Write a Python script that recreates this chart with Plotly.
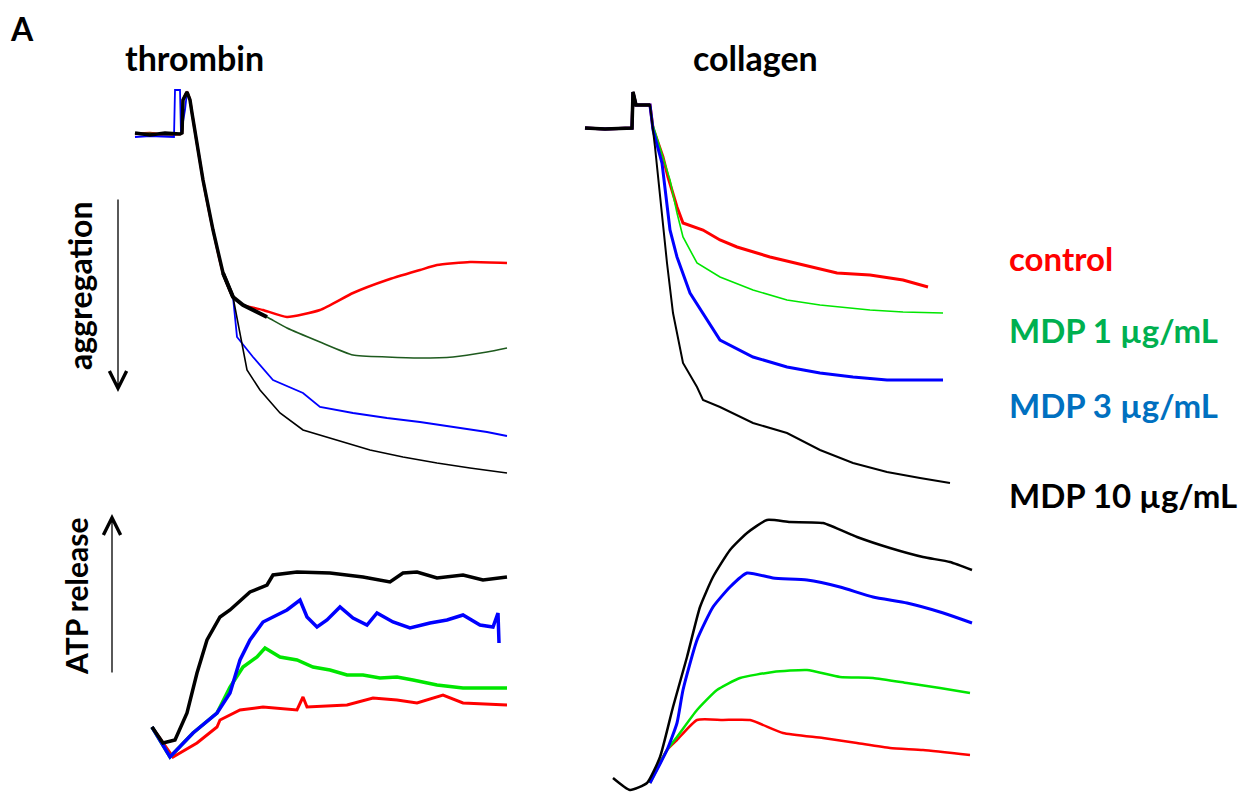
import plotly.graph_objects as go

# page: body margin 8px, figure fills the rest of the 1259x802 window
OFF = 8
W, H = 1259 - 2 * OFF, 802 - 2 * OFF

# ---------------- data (time in s, signal in arbitrary units) ----------------
# Thrombin aggregation (signal: light transmission, up = less aggregation)
thr_agg_ctrl_t = [5, 20, 35, 50, 52, 53, 57, 60, 62, 73, 83, 93, 103, 113, 133, 157, 190, 223, 257, 290, 307, 340, 377]
thr_agg_ctrl_v = [356, 357, 355, 356, 357, 390, 398, 390, 377, 310, 260, 217, 193, 185, 180, 173, 180, 197, 210, 220, 225, 228, 227]
thr_agg_m1_t = [5, 20, 35, 50, 52, 53, 57, 60, 62, 73, 83, 93, 103, 113, 137, 157, 190, 223, 257, 290, 323, 357, 377]
thr_agg_m1_v = [356, 357, 355, 356, 357, 390, 398, 390, 377, 310, 260, 217, 193, 185, 173, 162, 148, 135, 133, 132, 133, 138, 142]
thr_agg_m3_t = [5, 20, 44, 45, 50, 51, 55, 57, 60, 62, 73, 83, 93, 103, 107, 123, 143, 173, 190, 223, 257, 290, 323, 357, 377]
thr_agg_m3_v = [353, 354, 353, 400, 400, 356, 380, 398, 390, 377, 310, 260, 217, 193, 153, 133, 110, 97, 83, 77, 72, 68, 63, 58, 54]
thr_agg_m10_t = [5, 20, 35, 50, 52, 53, 57, 60, 62, 73, 83, 93, 103, 113, 117, 130, 150, 173, 207, 240, 273, 307, 340, 377]
thr_agg_m10_v = [357, 355, 357, 356, 357, 390, 398, 390, 377, 310, 260, 217, 193, 143, 120, 100, 77, 60, 50, 40, 33, 27, 22, 17]

# Collagen aggregation
col_agg_ctrl_t = [10, 30, 57, 58, 61, 75, 78, 88, 93, 102, 108, 128, 145, 162, 195, 228, 262, 295, 328, 353]
col_agg_ctrl_v = [362, 361, 362, 398, 385, 385, 362, 333, 313, 283, 267, 260, 250, 243, 233, 225, 217, 215, 210, 203]
col_agg_m1_t = [10, 30, 57, 58, 61, 75, 78, 88, 95, 102, 108, 122, 145, 178, 212, 245, 295, 328, 368]
col_agg_m1_v = [362, 361, 362, 398, 385, 385, 365, 333, 310, 277, 253, 227, 213, 200, 190, 185, 180, 178, 177]
col_agg_m3_t = [10, 30, 57, 58, 61, 75, 78, 87, 95, 102, 115, 128, 145, 178, 212, 245, 278, 312, 368]
col_agg_m3_v = [362, 361, 362, 398, 385, 385, 360, 327, 260, 233, 197, 177, 150, 133, 123, 117, 113, 110, 110]
col_agg_m10_t = [10, 30, 57, 58, 61, 75, 80, 85, 92, 98, 108, 122, 128, 145, 178, 212, 245, 278, 312, 345, 375]
col_agg_m10_v = [362, 361, 362, 398, 385, 385, 343, 293, 227, 177, 127, 103, 90, 83, 67, 57, 40, 27, 18, 12, 7]

# Thrombin ATP release (up = more ATP)
thr_atp_ctrl_t = [22, 43, 67, 87, 90, 110, 133, 167, 173, 177, 217, 243, 267, 287, 313, 333, 377]
thr_atp_ctrl_v = [43, 13, 27, 43, 50, 60, 63, 60, 73, 63, 65, 72, 70, 67, 75, 67, 65]
thr_atp_m1_t = [22, 40, 63, 87, 100, 113, 127, 135, 150, 167, 183, 200, 217, 233, 250, 267, 283, 307, 333, 353, 377]
thr_atp_m1_v = [43, 13, 37, 57, 83, 103, 113, 122, 113, 110, 103, 100, 95, 95, 92, 93, 90, 85, 82, 82, 82]
thr_atp_m3_t = [22, 40, 63, 87, 100, 110, 120, 133, 147, 157, 170, 177, 187, 197, 210, 223, 237, 247, 263, 280, 300, 317, 333, 350, 363, 368, 369]
thr_atp_m3_v = [43, 13, 37, 57, 77, 110, 130, 148, 155, 160, 170, 153, 143, 150, 163, 152, 145, 157, 148, 142, 147, 150, 155, 145, 143, 157, 127]
thr_atp_m10_t = [22, 33, 45, 57, 67, 77, 90, 100, 120, 137, 143, 167, 200, 233, 260, 273, 287, 307, 333, 353, 377]
thr_atp_m10_v = [43, 27, 30, 57, 97, 130, 153, 160, 178, 185, 195, 198, 197, 193, 188, 197, 198, 192, 195, 190, 193]

# Collagen ATP release
col_atp_ctrl_t = [50, 67, 77, 97, 123, 150, 183, 223, 257, 290, 323, 370]
col_atp_ctrl_v = [17, 50, 60, 80, 80, 80, 67, 62, 57, 52, 50, 45]
col_atp_m1_t = [50, 67, 77, 97, 117, 140, 173, 207, 240, 273, 307, 340, 370]
col_atp_m1_v = [17, 50, 63, 90, 110, 122, 128, 130, 123, 122, 117, 112, 107]
col_atp_m3_t = [50, 67, 77, 83, 97, 113, 130, 147, 173, 207, 240, 273, 307, 340, 372]
col_atp_m3_v = [17, 50, 77, 110, 160, 193, 213, 227, 222, 220, 213, 203, 197, 188, 177]
col_atp_m10_t = [13, 30, 47, 60, 73, 87, 100, 113, 130, 147, 167, 190, 223, 257, 290, 323, 350, 372]
col_atp_m10_v = [22, 10, 17, 43, 93, 143, 193, 223, 250, 267, 280, 278, 277, 263, 252, 243, 238, 230]

legend_labels = ["control", "MDP 1 µg/mL", "MDP 3 µg/mL", "MDP 10 µg/mL"]
legend_colors = ["#ff0000", "#00b050", "#0070c0", "#000000"]

# ---------------- layout helpers (positions given in window pixels) ----------------
def fx(px):
    return (px - OFF) / W

def fy(py):
    return 1 - (py - OFF) / H

panels = {
    # name: (left, right, top, bottom) in window pixels
    "1": (130, 520, 80, 490),
    "2": (575, 965, 80, 490),
    "3": (130, 520, 560, 770),
    "4": (600, 990, 500, 800),
}

fig = go.Figure()

def sub(lst, lo, hi, ref):
    return [v for v, r in zip(lst, ref) if lo <= r <= hi]

def add(panel, t, v, color, width, shape="linear"):
    fig.add_trace(go.Scatter(
        x=t, y=v, mode="lines",
        line=dict(color=color, width=width, shape=shape, smoothing=0.5),
        xaxis="x" + ("" if panel == "1" else panel),
        yaxis="y" + ("" if panel == "1" else panel),
        showlegend=False, hoverinfo="skip"))

RED, GRN, DGRN, BLU, BLK = "#ff0000", "#00e600", "#1e5a1e", "#0000ff", "#000000"

# thrombin aggregation
add("1", thr_agg_ctrl_t, thr_agg_ctrl_v, RED, 2.5, "spline")
add("1", thr_agg_m1_t, thr_agg_m1_v, DGRN, 1.6, "spline")
add("1", thr_agg_m3_t, thr_agg_m3_v, BLU, 1.8)
add("1", thr_agg_m10_t, thr_agg_m10_v, BLK, 1.6)
# noisy early part of traces (dense, appears thick and black)
add("1", sub(thr_agg_m10_t, 0, 103, thr_agg_m10_t), sub(thr_agg_m10_v, 0, 103, thr_agg_m10_t), BLK, 3.5)
add("1", sub(thr_agg_m1_t, 93, 137, thr_agg_m1_t), sub(thr_agg_m1_v, 93, 137, thr_agg_m1_t), BLK, 4)

# collagen aggregation
add("2", col_agg_ctrl_t, col_agg_ctrl_v, RED, 3)
add("2", col_agg_m1_t, col_agg_m1_v, GRN, 1.6)
add("2", col_agg_m3_t, col_agg_m3_v, BLU, 3)
add("2", col_agg_m10_t, col_agg_m10_v, BLK, 2)
add("2", sub(col_agg_m10_t, 0, 75, col_agg_m10_t), sub(col_agg_m10_v, 0, 75, col_agg_m10_t), BLK, 3.5)

# thrombin ATP
add("3", thr_atp_ctrl_t, thr_atp_ctrl_v, RED, 3)
add("3", thr_atp_m1_t, thr_atp_m1_v, GRN, 3.5)
add("3", thr_atp_m3_t, thr_atp_m3_v, BLU, 3.5)
add("3", thr_atp_m10_t, thr_atp_m10_v, BLK, 3.5)

# collagen ATP
add("4", col_atp_ctrl_t, col_atp_ctrl_v, RED, 2.5, "spline")
add("4", col_atp_m1_t, col_atp_m1_v, GRN, 2.5, "spline")
add("4", col_atp_m3_t, col_atp_m3_v, BLU, 3, "spline")
add("4", col_atp_m10_t, col_atp_m10_v, BLK, 2.5, "spline")

layout = dict(width=W, height=H, margin=dict(l=0, r=0, t=0, b=0),
              paper_bgcolor="white", plot_bgcolor="white", showlegend=False)
MAXPY = OFF + H
for k, (l, r, t, b) in panels.items():
    sx = "xaxis" + ("" if k == "1" else k)
    sy = "yaxis" + ("" if k == "1" else k)
    bb = min(b, MAXPY)
    layout[sx] = dict(domain=[fx(l), fx(r)], range=[0, r - l], visible=False,
                      anchor="y" + ("" if k == "1" else k), fixedrange=True)
    layout[sy] = dict(domain=[max(0.0, fy(bb)), fy(t)], range=[b - bb, b - t], visible=False,
                      anchor="x" + ("" if k == "1" else k), fixedrange=True)
fig.update_layout(**layout)

FONT = "Lato"
ann = []
def txt(x, y, s, size, color="#000000", angle=0, xanchor="center", yanchor="middle"):
    ann.append(dict(x=fx(x), y=fy(y), xref="paper", yref="paper", text=s,
                    showarrow=False, textangle=angle, xanchor=xanchor, yanchor=yanchor,
                    borderpad=0, font=dict(family=FONT, size=size, color=color)))

txt(9, 8, "<b>A</b>", 32, xanchor="left", yanchor="top")
txt(194, 58, "<b>thrombin</b>", 34)
txt(755, 58, "<b>collagen</b>", 34)
txt(79, 286, "<b>aggregation</b>", 32, angle=-90)
txt(76, 597, "<b>ATP release</b>", 30, angle=-90)
leg_y = [258, 330, 405, 495]
for lab, col, yy in zip(legend_labels, legend_colors, leg_y):
    txt(1008, yy, "<b>" + lab + "</b>", 33, color=col, xanchor="left")

# arrows (open V heads)
ann.append(dict(x=fx(118), y=fy(392), xref="paper", yref="paper",
                ax=0, ay=-194, axref="pixel", ayref="pixel", showarrow=True,
                arrowhead=5, arrowsize=2.6, arrowwidth=1.3, arrowcolor="#000000", text=""))
ann.append(dict(x=fx(112), y=fy(514), xref="paper", yref="paper",
                ax=0, ay=160, axref="pixel", ayref="pixel", showarrow=True,
                arrowhead=5, arrowsize=2.6, arrowwidth=1.3, arrowcolor="#000000", text=""))
fig.update_layout(annotations=ann)

fig.write_html("out.html")
